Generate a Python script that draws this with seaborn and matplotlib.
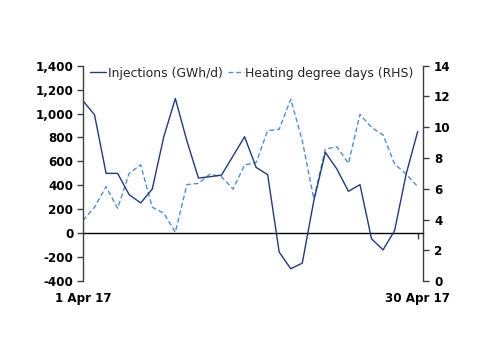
import matplotlib

matplotlib.use("Agg")
import matplotlib.pyplot as plt
import numpy as np
import pandas as pd
import seaborn as sns

sns.set_style("white")
plt.rcParams["font.family"] = ["DejaVu Sans"]

# daily values, 1-30 April 2017
days = list(range(1, 31))
injections = [1106, 989, 500, 500, 322, 253, 369, 806, 1125, 772,
              461, 472, 486, 645, 806, 550, 489, -158, -297, -250,
              272, 675, 536, 350, 406, -47, -139, 22, 494, 850]
hdd = [3.94, 4.80, 6.14, 4.73, 7.00, 7.56, 4.80, 4.41, 3.17, 6.27,
       6.35, 6.95, 6.78, 5.98, 7.54, 7.71, 9.77, 9.87, 11.82, 9.12,
       5.34, 8.58, 8.73, 7.65, 10.84, 9.98, 9.50, 7.61, 6.95, 6.14]
x_labels = ["1 Apr 17", "30 Apr 17"]

df = pd.DataFrame({"day": np.arange(len(days)), "inj": injections, "hdd": hdd})

navy = "#1f3a8a"
light = "#4f8fdb"
spine_col = "#404040"

fig = plt.figure(figsize=(5.0, 3.54), dpi=100)
ax = fig.add_axes([0.166, 0.206, 0.680, 0.6085])
ax2 = ax.twinx()

sns.lineplot(data=df, x="day", y="inj", ax=ax, color=navy, linewidth=1.0,
             label="Injections (GWh/d)", legend=False)
sns.lineplot(data=df, x="day", y="hdd", ax=ax2, color=light, linewidth=1.0,
             linestyle=(0, (3.5, 2)), label="Heating degree days (RHS)", legend=False)

ax.set_xlim(0, 29.46)
ax.set_ylim(-400, 1400)
ax2.set_ylim(0, 14)
ax.set_yticks(np.arange(-400, 1401, 200))
ax.yaxis.set_major_formatter(matplotlib.ticker.FuncFormatter(lambda v, p: f"{int(v):,}"))
ax2.set_yticks(np.arange(0, 15, 2))

ax.set_xticks([0, 29])
ax.set_xticklabels(x_labels)
ax.set_xlabel("")
ax.set_ylabel("")
ax2.set_ylabel("")

for a in (ax, ax2):
    for s in ("top", "bottom"):
        a.spines[s].set_visible(False)
ax.spines["right"].set_visible(False)
ax2.spines["left"].set_visible(False)
ax.spines["left"].set_color(spine_col)
ax2.spines["right"].set_color(spine_col)
ax.spines["left"].set_linewidth(1.0)
ax2.spines["right"].set_linewidth(1.0)

ax.tick_params(axis="y", direction="out", length=4, width=1, color=spine_col, pad=3, left=True)
ax2.tick_params(axis="y", direction="out", length=4, width=1, color=spine_col, pad=4, right=True)
ax.tick_params(axis="x", length=0, pad=8, bottom=True)
for lab in ax.get_yticklabels() + ax2.get_yticklabels() + ax.get_xticklabels():
    lab.set_fontsize(8.6)
    lab.set_fontweight("bold")
    lab.set_color("black")

# zero line with small tick at month end
zero_ax = ax.secondary_xaxis(400 / 1800)
zero_ax.spines["bottom"].set_color("black")
zero_ax.spines["bottom"].set_linewidth(1.0)
zero_ax.set_xticks([29])
zero_ax.set_xticklabels([""])
zero_ax.tick_params(direction="out", length=4, width=1, color=spine_col)

h1, l1 = ax.get_legend_handles_labels()
h2, l2 = ax2.get_legend_handles_labels()
leg = ax.legend(h1 + h2, l1 + l2, ncol=2, frameon=False, loc="upper left",
                bbox_to_anchor=(0.0, 1.03), fontsize=8.9, handlelength=1.3,
                handletextpad=0.1, columnspacing=0.4, borderaxespad=0.2)
ax.set_zorder(ax2.get_zorder() + 1)
ax.patch.set_visible(False)

fig.savefig("out.png", dpi=100)
